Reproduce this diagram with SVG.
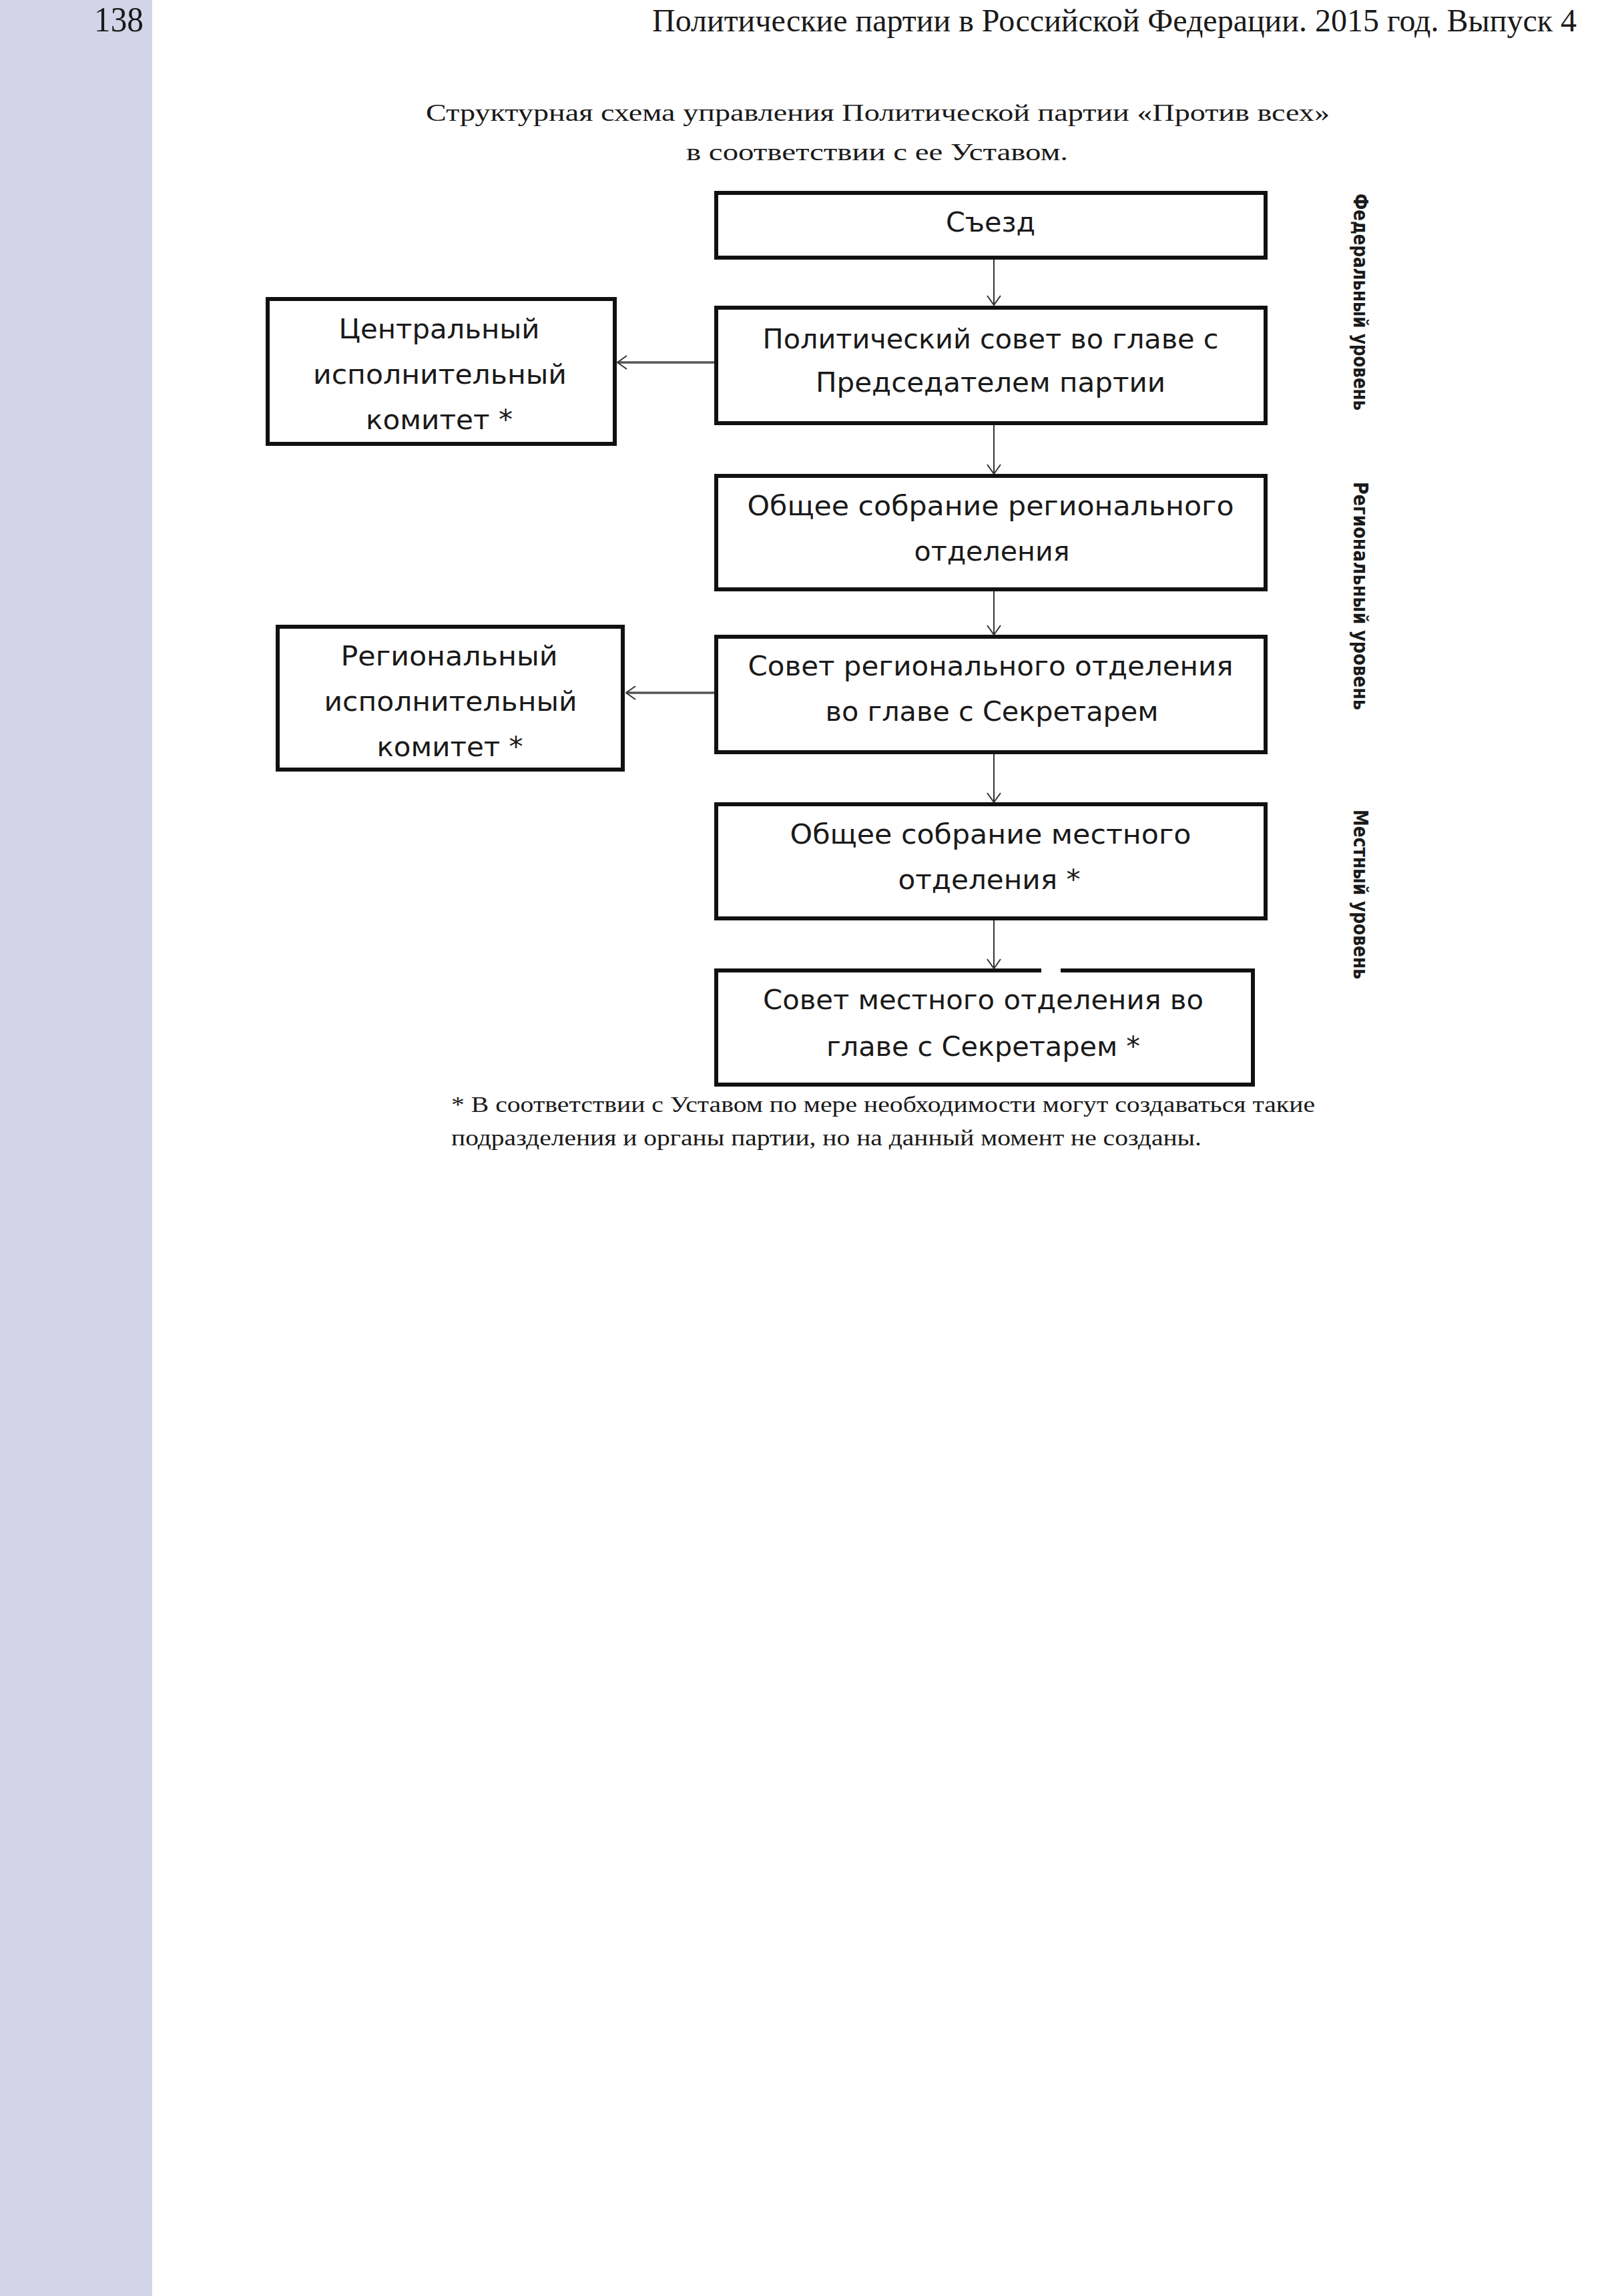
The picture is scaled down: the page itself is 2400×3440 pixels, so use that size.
<svg xmlns="http://www.w3.org/2000/svg" width="2400" height="3440" viewBox="0 0 2400 3440">
<style>
.box{fill:#fff;stroke:#111;stroke-width:6}
.t{font-family:"DejaVu Sans","Open Sans",sans-serif;font-size:40px;fill:#1a1a1a;text-anchor:middle}
.v{font-family:"DejaVu Sans","Open Sans",sans-serif;font-size:30px;font-weight:bold;fill:#1a1a1a}
.serif{font-family:"Liberation Serif","Times New Roman",serif;fill:#1a1a1a}
.conv{stroke:#333;stroke-width:2;fill:none}
.conh{stroke:#555;stroke-width:3.5;fill:none}
</style>
<defs>
<marker id="arr" viewBox="0 0 16 22" refX="15" refY="11" markerWidth="16" markerHeight="22" orient="auto" markerUnits="userSpaceOnUse">
<path d="M1,1 L15,11 L1,21" fill="none" stroke="#333" stroke-width="2"/>
</marker>
</defs>
<rect x="0" y="0" width="2400" height="3440" fill="#fff"/>
<rect x="0" y="0" width="228" height="3440" fill="#d3d4e8"/>
<text class="serif" x="141" y="47" font-size="52" textLength="74" lengthAdjust="spacingAndGlyphs">138</text>
<text class="serif" x="977" y="47" font-size="48" textLength="1385" lengthAdjust="spacingAndGlyphs">Политические партии в Российской Федерации. 2015 год. Выпуск 4</text>
<text class="serif" x="638" y="181" font-size="35" textLength="1354" lengthAdjust="spacingAndGlyphs">Структурная схема управления Политической партии «Против всех»</text>
<text class="serif" x="1028" y="240" font-size="35" textLength="572" lengthAdjust="spacingAndGlyphs">в соответствии с ее Уставом.</text>

<g id="connectors">
<line class="conv" x1="1489" y1="389" x2="1489" y2="457" marker-end="url(#arr)"/>
<line class="conv" x1="1489" y1="637" x2="1489" y2="710" marker-end="url(#arr)"/>
<line class="conv" x1="1489" y1="885" x2="1489" y2="951" marker-end="url(#arr)"/>
<line class="conv" x1="1489" y1="1130" x2="1489" y2="1202" marker-end="url(#arr)"/>
<line class="conv" x1="1489" y1="1378" x2="1489" y2="1451" marker-end="url(#arr)"/>
<line class="conh" x1="1070" y1="543" x2="925" y2="543" marker-end="url(#arr)"/>
<line class="conh" x1="1070" y1="1038" x2="938" y2="1038" marker-end="url(#arr)"/>
</g>

<g id="n-sezd">
<rect class="box" x="1073" y="289" width="823" height="97"/>
<text class="t" x="1484" y="347" textLength="134" lengthAdjust="spacingAndGlyphs">Съезд</text>
</g>
<g id="n-polit">
<rect class="box" x="1073" y="461" width="823" height="173"/>
<text class="t" x="1484" y="522" textLength="683" lengthAdjust="spacingAndGlyphs">Политический совет во главе с</text>
<text class="t" x="1484" y="587" textLength="524" lengthAdjust="spacingAndGlyphs">Председателем партии</text>
</g>
<g id="n-cik">
<rect class="box" x="401" y="448" width="520" height="217"/>
<text class="t" x="658" y="507" textLength="301" lengthAdjust="spacingAndGlyphs">Центральный</text>
<text class="t" x="659" y="575" textLength="380" lengthAdjust="spacingAndGlyphs">исполнительный</text>
<text class="t" x="658" y="643" textLength="220" lengthAdjust="spacingAndGlyphs">комитет *</text>
</g>
<g id="n-obsh-reg">
<rect class="box" x="1073" y="713" width="823" height="170"/>
<text class="t" x="1484" y="772" textLength="729" lengthAdjust="spacingAndGlyphs">Общее собрание регионального</text>
<text class="t" x="1486" y="840" textLength="233" lengthAdjust="spacingAndGlyphs">отделения</text>
</g>
<g id="n-sovet-reg">
<rect class="box" x="1073" y="954" width="823" height="173"/>
<text class="t" x="1484" y="1012" textLength="727" lengthAdjust="spacingAndGlyphs">Совет регионального отделения</text>
<text class="t" x="1486" y="1080" textLength="499" lengthAdjust="spacingAndGlyphs">во главе с Секретарем</text>
</g>
<g id="n-rik">
<rect class="box" x="416" y="939" width="517" height="214"/>
<text class="t" x="673" y="997" textLength="325" lengthAdjust="spacingAndGlyphs">Региональный</text>
<text class="t" x="675" y="1065" textLength="379" lengthAdjust="spacingAndGlyphs">исполнительный</text>
<text class="t" x="674" y="1133" textLength="219" lengthAdjust="spacingAndGlyphs">комитет *</text>
</g>
<g id="n-obsh-mest">
<rect class="box" x="1073" y="1205" width="823" height="171"/>
<text class="t" x="1484" y="1264" textLength="601" lengthAdjust="spacingAndGlyphs">Общее собрание местного</text>
<text class="t" x="1482" y="1332" textLength="273" lengthAdjust="spacingAndGlyphs">отделения *</text>
</g>
<g id="n-sovet-mest">
<path d="M1560,1454 H1073 V1625 H1877 V1454 H1589" fill="#fff" stroke="#111" stroke-width="6"/>
<text class="t" x="1473" y="1512" textLength="660" lengthAdjust="spacingAndGlyphs">Совет местного отделения во</text>
<text class="t" x="1473" y="1582" textLength="470" lengthAdjust="spacingAndGlyphs">главе с Секретарем *</text>
</g>

<g id="levels">
<text class="v" transform="translate(2028,290) rotate(90)" textLength="325" lengthAdjust="spacingAndGlyphs">Федеральный уровень</text>
<text class="v" transform="translate(2028,722) rotate(90)" textLength="342" lengthAdjust="spacingAndGlyphs">Региональный  уровень</text>
<text class="v" transform="translate(2028,1213) rotate(90)" textLength="254" lengthAdjust="spacingAndGlyphs">Местный уровень</text>
</g>

<g id="footnote">
<text class="serif" x="676" y="1666" font-size="33" textLength="1294" lengthAdjust="spacingAndGlyphs">* В соответствии с Уставом по мере необходимости могут создаваться такие</text>
<text class="serif" x="676" y="1716" font-size="33" textLength="1124" lengthAdjust="spacingAndGlyphs">подразделения и органы партии, но на данный момент не созданы.</text>
</g>
</svg>
